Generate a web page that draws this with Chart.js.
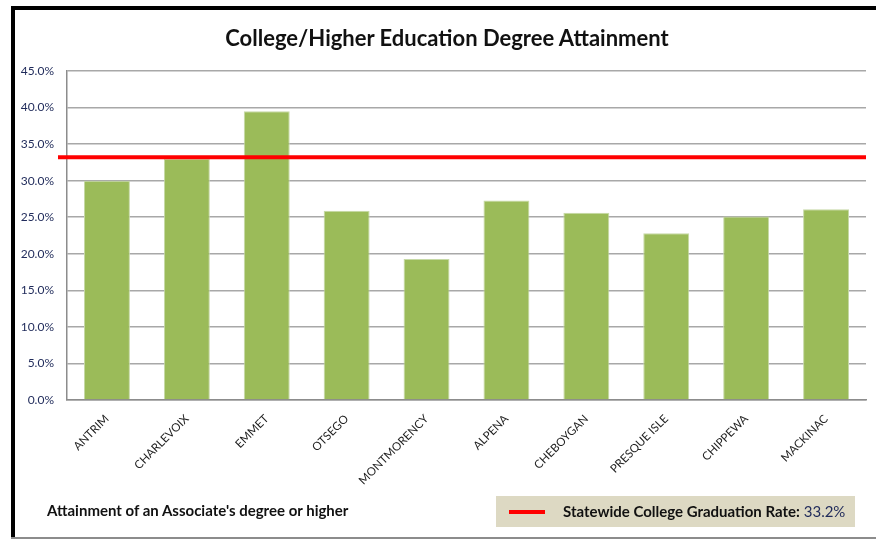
<!DOCTYPE html>
<html>
<head>
<meta charset="utf-8">
<script src="https://cdn.jsdelivr.net/npm/chart.js@4.4.0/dist/chart.umd.min.js"></script>
<style>
  html, body { margin: 0; padding: 0; background: #fff; overflow: hidden; }
  #wrap { position: relative; width: 876px; height: 541px; overflow: hidden; font-family: Lato, "Open Sans", sans-serif; }
  .edge { position: absolute; }
  #edgeTop { left: 11px; top: 6px; width: 865px; height: 4px; background: #000; }
  #edgeLeft { left: 11px; top: 6px; width: 4px; height: 533px; background: #000; }
  #edgeBottom { left: 11px; top: 537px; width: 865px; height: 2px; background: #8c8c8c; }
  #title { position: absolute; left: 0; width: 894px; top: 24px; text-align: center;
           font-weight: bold; font-size: 22px; color: #111; }
  #note { position: absolute; left: 47px; top: 501px; font-weight: bold; font-size: 15px; color: #111; }
  #legend { position: absolute; left: 496px; top: 496px; width: 359px; height: 31px; background: #ddd9c3;
            font-size: 15px; color: #111; }
  #legend .mark { position: absolute; left: 13px; top: 14px; width: 36px; height: 4px; background: #ff0000; }
  #legend .txt { position: absolute; left: 67px; top: 6px; white-space: nowrap; }
  #legend .txt span { color: #1f2a5a; }
  canvas { position: absolute; left: 0; top: 0; }
</style>
</head>
<body>
<div id="wrap">
  <div class="edge" id="edgeTop"></div>
  <div class="edge" id="edgeLeft"></div>
  <div class="edge" id="edgeBottom"></div>
  <canvas id="chart" width="876" height="541"></canvas>
  <div id="title">College/Higher Education Degree Attainment</div>
  <div id="note">Attainment of an Associate's degree or higher</div>
  <div id="legend"><div class="mark"></div><div class="txt"><b>Statewide College Graduation Rate:</b> <span>33.2%</span></div></div>
</div>
<script>
// values (percent)
const counties = ['ANTRIM', 'CHARLEVOIX', 'EMMET', 'OTSEGO', 'MONTMORENCY', 'ALPENA', 'CHEBOYGAN', 'PRESQUE ISLE', 'CHIPPEWA', 'MACKINAC'];
const attainment = [30.0, 33.0, 39.5, 25.9, 19.3, 27.3, 25.6, 22.8, 25.1, 26.1];
const statewideRate = 33.2;
const yTicks = [0, 5, 10, 15, 20, 25, 30, 35, 40, 45];

// red statewide line, drawn across the plot area through the y scale
const stateLine = {
  id: 'stateLine',
  afterDatasetsDraw(chart) {
    let ctx = chart.ctx;
    let y = chart.scales.y.getPixelForValue(statewideRate);
    ctx.save();
    ctx.strokeStyle = '#ff0000';
    ctx.lineWidth = 4;
    ctx.beginPath();
    ctx.moveTo(chart.chartArea.left - 9, y);
    ctx.lineTo(chart.chartArea.right, y);
    ctx.stroke();
    ctx.restore();
  }
};

let ctx = document.getElementById('chart').getContext('2d');
new Chart(ctx, {
  type: 'bar',
  data: {
    labels: counties,
    datasets: [{
      data: attainment,
      backgroundColor: '#9bbb59',
      borderColor: '#c6d9a6',
      borderWidth: 1,
      barPercentage: 0.575,
      categoryPercentage: 1
    }]
  },
  options: {
    responsive: false,
    animation: false,
    layout: { padding: { top: 71, right: 10, left: 0, bottom: 0 } },
    plugins: { legend: false, tooltip: false, title: false },
    scales: {
      x: {
        afterFit: function (s) { s.height = 141; },
        grid: { display: false, drawTicks: false },
        border: { color: '#8c8c8c', width: 1.5 },
        ticks: {
          minRotation: 45,
          maxRotation: 45,
          padding: 12,
          color: '#222',
          font: { family: 'Lato', size: 11.5 }
        }
      },
      y: {
        min: 0,
        max: 45,
        afterFit: function (s) { s.width = 67; },
        afterBuildTicks: function (s) { s.ticks = yTicks.map(v => ({ value: v })); },
        grid: { color: '#a8a8a8', lineWidth: 1.5, drawTicks: false },
        border: { color: '#8c8c8c', width: 1.5 },
        ticks: {
          padding: 13,
          color: '#1f2a5a',
          font: { family: 'Lato', size: 12 },
          callback: v => v.toFixed(1) + '%'
        }
      }
    }
  },
  plugins: [stateLine]
});
</script>
</body>
</html>
